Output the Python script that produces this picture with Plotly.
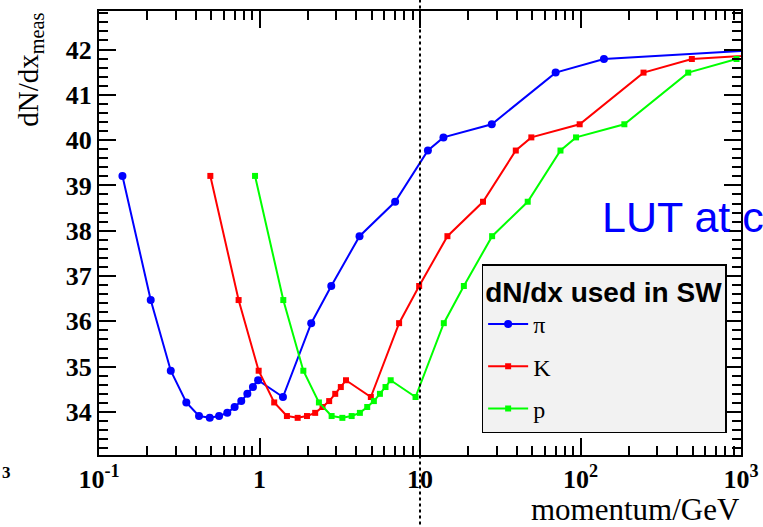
import plotly.graph_objects as go

# momentum values (GeV) for each particle species
pion_p = [0.14, 0.21, 0.28, 0.35, 0.42, 0.49, 0.56, 0.63, 0.70, 0.77, 0.84, 0.91, 0.98,
          1.4, 2.1, 2.8, 4.2, 7.0, 11.2, 14.0, 28.0, 70.0, 140.0, 1400.0]
kaon_p = [0.494, 0.741, 0.988, 1.235, 1.482, 1.729, 1.976, 2.223, 2.47, 2.717, 2.964, 3.211, 3.458,
          4.94, 7.41, 9.88, 14.82, 24.7, 39.52, 49.4, 98.8, 247.0, 494.0, 4940.0]
proton_p = [0.938, 1.407, 1.876, 2.345, 2.814, 3.283, 3.752, 4.221, 4.69, 5.159, 5.628, 6.097, 6.566,
            9.38, 14.07, 18.76, 28.14, 46.9, 75.04, 93.8, 187.6, 469.0, 938.0, 9380.0]

# measured dN/dx values
pion_dndx = [39.21, 36.47, 34.91, 34.21, 33.91, 33.87, 33.91, 33.98, 34.11, 34.24, 34.40, 34.55, 34.70,
             34.33, 35.96, 36.78, 37.88, 38.64, 39.77, 40.06, 40.35, 41.49, 41.79, 42.0]
kaon_dndx = [39.21, 36.47, 34.91, 34.21, 33.91, 33.87, 33.91, 33.98, 34.11, 34.24, 34.40, 34.55, 34.70,
             34.33, 35.96, 36.78, 37.88, 38.64, 39.77, 40.06, 40.35, 41.49, 41.79, 42.0]
proton_dndx = [39.21, 36.47, 34.91, 34.21, 33.91, 33.87, 33.91, 33.98, 34.11, 34.24, 34.40, 34.55, 34.70,
               34.33, 35.96, 36.78, 37.88, 38.64, 39.77, 40.06, 40.35, 41.49, 41.79, 42.0]

series_names = ["π", "K", "p"]
series_colors = ["#0000ff", "#ff0000", "#00ff00"]

x_tickvals = [0.1, 1, 10, 100, 1000]
x_ticktext = ["<b>10<sup>-1</sup></b>", "<b>1</b>", "<b>10</b>", "<b>10<sup>2</sup></b>", "<b>10<sup>3</sup></b>"]
y_tickvals = [34, 35, 36, 37, 38, 39, 40, 41, 42]
y_ticktext = ["<b>34</b>", "<b>35</b>", "<b>36</b>", "<b>37</b>", "<b>38</b>",
              "<b>39</b>", "<b>40</b>", "<b>41</b>", "<b>42</b>"]

fig = go.Figure()
fig.add_trace(go.Scatter(x=pion_p, y=pion_dndx, name=series_names[0], mode="lines+markers",
                         legendgroup="a",
                         line=dict(color=series_colors[0], width=2),
                         marker=dict(color=series_colors[0], size=8, symbol="circle")))
fig.add_trace(go.Scatter(x=kaon_p, y=kaon_dndx, name=series_names[1], mode="lines+markers",
                         legendgroup="b",
                         line=dict(color=series_colors[1], width=2),
                         marker=dict(color=series_colors[1], size=6, symbol="square")))
fig.add_trace(go.Scatter(x=proton_p, y=proton_dndx, name=series_names[2], mode="lines+markers",
                         legendgroup="c",
                         line=dict(color=series_colors[2], width=2),
                         marker=dict(color=series_colors[2], size=6, symbol="square")))

fig.add_shape(type="line", xref="x", yref="paper", x0=10, x1=10, y0=-0.17, y1=1.03,
              line=dict(color="black", width=2, dash="dot"))

tickfont = dict(family="Liberation Serif", size=26, color="black")

fig.update_xaxes(type="log", range=[-1, 3], tickvals=x_tickvals, ticktext=x_ticktext,
                 ticks="inside", ticklen=17, tickwidth=2, tickcolor="black",
                 showline=True, linewidth=2, linecolor="black", mirror="ticks",
                 showgrid=False, zeroline=False, tickfont=tickfont, automargin=False,
                 minor=dict(ticks="inside", ticklen=9, tickwidth=1.5, tickcolor="black",
                            dtick="D1", showgrid=False))
fig.update_yaxes(range=[33.05, 42.85], tickvals=y_tickvals, ticktext=y_ticktext,
                 ticks="inside", ticklen=17, tickwidth=2, tickcolor="black",
                 showline=True, linewidth=2, linecolor="black", mirror="ticks",
                 showgrid=False, zeroline=False, tickfont=tickfont, automargin=False,
                 minor=dict(ticks="inside", ticklen=9, tickwidth=1.5, tickcolor="black",
                            dtick=0.2, showgrid=False))

fig.add_annotation(text="momentum/GeV", xref="paper", yref="paper", x=1.002, y=-0.078,
                   xanchor="right", yanchor="top", showarrow=False,
                   font=dict(family="Liberation Serif", size=31, color="black"))
fig.add_annotation(text="dN/dx<sub>meas</sub>", xref="paper", yref="paper", x=-0.108, y=1.0,
                   xanchor="center", yanchor="top", textangle=-90, showarrow=False,
                   font=dict(family="Liberation Serif", size=29, color="black"))
fig.add_annotation(text="LUT at c", xref="paper", yref="paper", x=0.781, y=0.536,
                   xanchor="left", yanchor="middle", showarrow=False,
                   font=dict(family="Liberation Sans", size=43, color="#0000ff"))
fig.add_annotation(text="<b>3</b>", xref="paper", yref="paper", x=-0.154, y=-0.04,
                   xanchor="left", yanchor="middle", showarrow=False,
                   font=dict(family="Liberation Serif", size=17, color="black"))

fig.update_layout(
    width=763, height=527,
    margin=dict(l=99, r=22, t=11, b=72),
    paper_bgcolor="white", plot_bgcolor="white",
    showlegend=True,
    legend=dict(x=0.596, y=0.430, xanchor="left", yanchor="top",
                bgcolor="#f2f2f2", bordercolor="black", borderwidth=1.5,
                title=dict(text="<b>dN/dx used in SW</b>",
                           font=dict(family="Liberation Sans", size=28, color="black")),
                font=dict(family="Liberation Serif", size=24, color="black"),
                tracegroupgap=8, itemwidth=40),
)

fig.write_html("out.html", config={"displayModeBar": False},
               post_script="document.body.style.margin='0';document.body.style.overflow='hidden';")
